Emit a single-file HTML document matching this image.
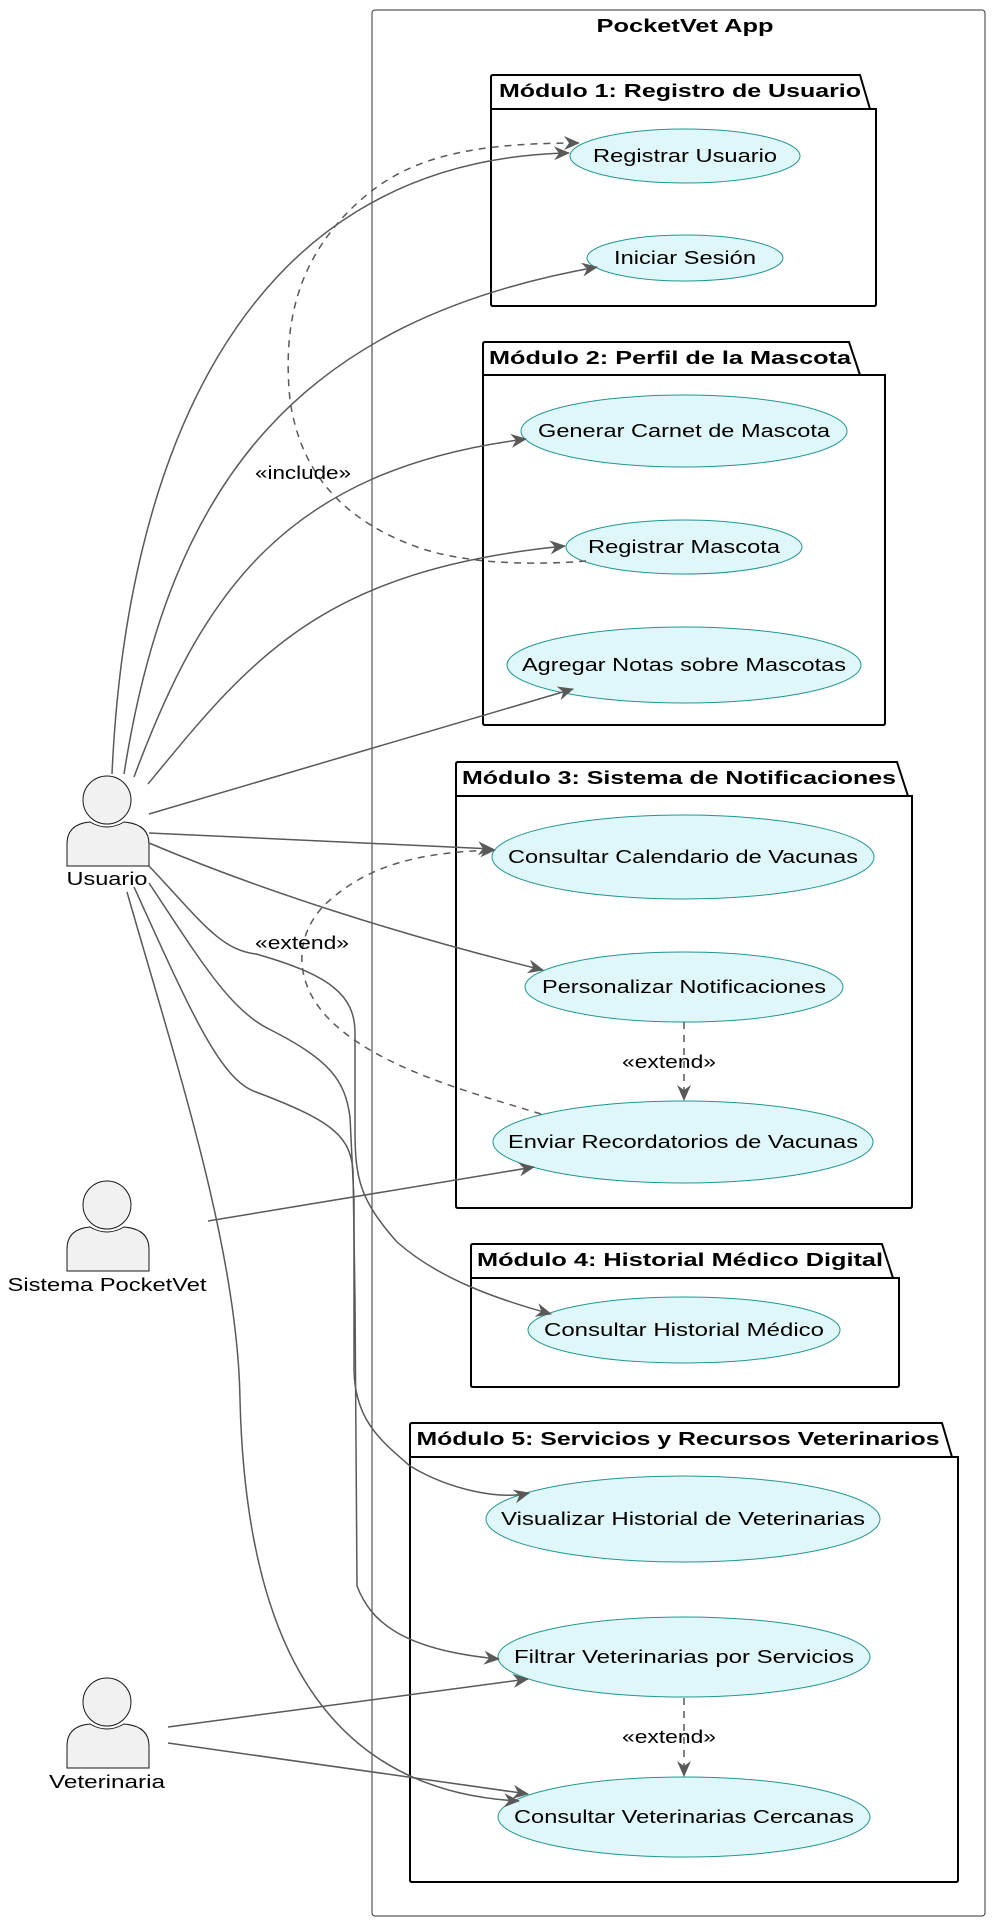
<!DOCTYPE html>
<html><head><meta charset="utf-8"><style>
html,body{margin:0;padding:0;background:#fff;}
svg{display:block;}
text{font-family:"Liberation Sans",sans-serif;}
.uc{fill:#e0f7f9;stroke:#21968f;stroke-width:1;}
.pk{fill:none;stroke:#000;stroke-width:2;}
.e{fill:none;stroke:#595959;stroke-width:1.5;}
.d{fill:none;stroke:#595959;stroke-width:1.5;stroke-dasharray:7,6;}
.t{font-size:18px;fill:#000;}
.b{font-size:18px;font-weight:bold;fill:#000;}
.act{fill:#f1f1f1;stroke:#181818;stroke-width:1;}
</style></head><body>
<svg width="998" height="1924" viewBox="0 0 998 1924" xmlns="http://www.w3.org/2000/svg">
<defs>
<marker id="a" markerWidth="18" markerHeight="16" refX="15" refY="7" orient="auto" markerUnits="userSpaceOnUse">
<path d="M0,0 L16,7 L0,14 L5,7 z" fill="#595959"/>
</marker>
</defs>

<rect x="372" y="10" width="613" height="1906" rx="3" fill="none" stroke="#333" stroke-width="1"/>
<text x="685" y="32" class="b" text-anchor="middle" textLength="177" lengthAdjust="spacingAndGlyphs">PocketVet App</text>

<path class="pk" d="M491 109 L491 77 Q491 75 493 75 L860 75 L870 109 L876 109 L876 304 Q876 306 874 306 L493 306 Q491 306 491 304 Z M491 109 L870 109"/>
<text x="680" y="97" class="b" text-anchor="middle" textLength="362" lengthAdjust="spacingAndGlyphs">Módulo 1: Registro de Usuario</text>

<path class="pk" d="M483 375 L483 344 Q483 342 485 342 L849 342 L860 375 L885 375 L885 723 Q885 725 883 725 L485 725 Q483 725 483 723 Z M483 375 L860 375"/>
<text x="670" y="364" class="b" text-anchor="middle" textLength="362" lengthAdjust="spacingAndGlyphs">Módulo 2: Perfil de la Mascota</text>

<path class="pk" d="M456 796 L456 764 Q456 762 458 762 L897 762 L908 796 L912 796 L912 1206 Q912 1208 910 1208 L458 1208 Q456 1208 456 1206 Z M456 796 L908 796"/>
<text x="679" y="784" class="b" text-anchor="middle" textLength="434" lengthAdjust="spacingAndGlyphs">Módulo 3: Sistema de Notificaciones</text>

<path class="pk" d="M471 1278 L471 1246 Q471 1244 473 1244 L882 1244 L893 1278 L899 1278 L899 1385 Q899 1387 897 1387 L473 1387 Q471 1387 471 1385 Z M471 1278 L893 1278"/>
<text x="680" y="1266" class="b" text-anchor="middle" textLength="406" lengthAdjust="spacingAndGlyphs">Módulo 4: Historial Médico Digital</text>

<path class="pk" d="M410 1457 L410 1425 Q410 1423 412 1423 L942 1423 L952 1457 L958 1457 L958 1880 Q958 1882 956 1882 L412 1882 Q410 1882 410 1880 Z M410 1457 L952 1457"/>
<text x="678" y="1445" class="b" text-anchor="middle" textLength="523" lengthAdjust="spacingAndGlyphs">Módulo 5: Servicios y Recursos Veterinarios</text>

<ellipse class="uc" cx="685" cy="156" rx="115" ry="27"/>
<text x="685" y="162" class="t" text-anchor="middle" textLength="184" lengthAdjust="spacingAndGlyphs">Registrar Usuario</text>
<ellipse class="uc" cx="685" cy="258" rx="98" ry="23"/>
<text x="685" y="264" class="t" text-anchor="middle" textLength="142" lengthAdjust="spacingAndGlyphs">Iniciar Sesión</text>
<ellipse class="uc" cx="684" cy="431" rx="163" ry="36"/>
<text x="684" y="437" class="t" text-anchor="middle" textLength="292" lengthAdjust="spacingAndGlyphs">Generar Carnet de Mascota</text>
<ellipse class="uc" cx="684" cy="547" rx="118" ry="27"/>
<text x="684" y="553" class="t" text-anchor="middle" textLength="192" lengthAdjust="spacingAndGlyphs">Registrar Mascota</text>
<ellipse class="uc" cx="684" cy="665" rx="177" ry="38"/>
<text x="684" y="671" class="t" text-anchor="middle" textLength="324" lengthAdjust="spacingAndGlyphs">Agregar Notas sobre Mascotas</text>
<ellipse class="uc" cx="683" cy="857" rx="191" ry="42"/>
<text x="683" y="863" class="t" text-anchor="middle" textLength="350" lengthAdjust="spacingAndGlyphs">Consultar Calendario de Vacunas</text>
<ellipse class="uc" cx="684" cy="987" rx="159" ry="35"/>
<text x="684" y="993" class="t" text-anchor="middle" textLength="284" lengthAdjust="spacingAndGlyphs">Personalizar Notificaciones</text>
<ellipse class="uc" cx="683" cy="1142" rx="190" ry="41"/>
<text x="683" y="1148" class="t" text-anchor="middle" textLength="350" lengthAdjust="spacingAndGlyphs">Enviar Recordatorios de Vacunas</text>
<ellipse class="uc" cx="684" cy="1330" rx="156" ry="33"/>
<text x="684" y="1336" class="t" text-anchor="middle" textLength="280" lengthAdjust="spacingAndGlyphs">Consultar Historial Médico</text>
<ellipse class="uc" cx="683" cy="1519" rx="197" ry="43"/>
<text x="683" y="1525" class="t" text-anchor="middle" textLength="364" lengthAdjust="spacingAndGlyphs">Visualizar Historial de Veterinarias</text>
<ellipse class="uc" cx="684" cy="1657" rx="186" ry="40"/>
<text x="684" y="1663" class="t" text-anchor="middle" textLength="340" lengthAdjust="spacingAndGlyphs">Filtrar Veterinarias por Servicios</text>
<ellipse class="uc" cx="684" cy="1817" rx="186" ry="40"/>
<text x="684" y="1823" class="t" text-anchor="middle" textLength="340" lengthAdjust="spacingAndGlyphs">Consultar Veterinarias Cercanas</text>

<g>
<ellipse class="act" cx="107" cy="800" rx="24" ry="24"/>
<path class="act" d="M67 866 L67 844 Q67 824 90 822 Q107 832 124 822 Q149 824 149 844 L149 866 Z"/>
<text x="107" y="885" class="t" text-anchor="middle" textLength="81" lengthAdjust="spacingAndGlyphs">Usuario</text>
</g>
<g>
<ellipse class="act" cx="107" cy="1205" rx="24" ry="24"/>
<path class="act" d="M67 1271 L67 1249 Q67 1229 90 1227 Q107 1237 124 1227 Q149 1229 149 1249 L149 1271 Z"/>
<text x="107" y="1291" class="t" text-anchor="middle" textLength="199" lengthAdjust="spacingAndGlyphs">Sistema PocketVet</text>
</g>
<g>
<ellipse class="act" cx="107" cy="1702" rx="24" ry="24"/>
<path class="act" d="M67 1768 L67 1746 Q67 1726 90 1724 Q107 1734 124 1724 Q149 1726 149 1746 L149 1768 Z"/>
<text x="107" y="1788" class="t" text-anchor="middle" textLength="116" lengthAdjust="spacingAndGlyphs">Veterinaria</text>
</g>

<path class="e" marker-end="url(#a)" d="M112 774 C125 480 230 160 569 153"/>
<path class="e" marker-end="url(#a)" d="M124 774 C170 480 300 320 597 267"/>
<path class="e" marker-end="url(#a)" d="M134 777 C200 600 280 470 526 439"/>
<path class="e" marker-end="url(#a)" d="M148 784 C250 660 320 570 565 546"/>
<path class="e" marker-end="url(#a)" d="M149 814 L573 689"/>
<path class="e" marker-end="url(#a)" d="M149 833 L493 849"/>
<path class="e" marker-end="url(#a)" d="M149 843 C260 890 400 935 543 970"/>
<path class="e" marker-end="url(#a)" d="M149 866 C200 920 220 950 256 954 C330 975 355 995 355 1033 L355 1130 C355 1179 360 1200 397 1242 C440 1280 500 1300 551 1314"/>
<path class="e" marker-end="url(#a)" d="M149 883 C200 960 230 1010 269 1029 C330 1060 345 1080 350 1117 L354 1200 L354 1370 C355 1420 380 1440 410 1466 C450 1490 500 1500 529 1493"/>
<path class="e" marker-end="url(#a)" d="M134 887 C190 1010 220 1080 256 1092 C330 1120 350 1135 353 1170 L355 1300 L357 1586 C370 1620 400 1650 499 1659"/>
<path class="e" marker-end="url(#a)" d="M127 892 C175 1060 238 1250 240 1400 C245 1600 300 1790 519 1801"/>

<path class="e" marker-end="url(#a)" d="M208 1221 L534 1167"/>
<path class="e" marker-end="url(#a)" d="M168 1727 L528 1679"/>
<path class="e" marker-end="url(#a)" d="M168 1743 L528 1794"/>

<path class="d" marker-end="url(#a)" d="M586 561 C540 565 470 565 420 548 C340 520 300 470 290 400 C282 320 300 260 350 210 C400 160 460 143 579 143"/>
<path class="d" marker-end="url(#a)" d="M541 1114 C480 1095 380 1070 330 1020 C290 980 295 930 330 900 C370 865 420 852 495 850"/>
<path class="d" marker-end="url(#a)" d="M684 1022 L684 1100"/>
<path class="d" marker-end="url(#a)" d="M684 1698 L684 1776"/>

<text x="303" y="479" class="t" text-anchor="middle" textLength="96" lengthAdjust="spacingAndGlyphs">«include»</text>
<text x="302" y="949" class="t" text-anchor="middle" textLength="94" lengthAdjust="spacingAndGlyphs">«extend»</text>
<text x="669" y="1068" class="t" text-anchor="middle" textLength="94" lengthAdjust="spacingAndGlyphs">«extend»</text>
<text x="669" y="1743" class="t" text-anchor="middle" textLength="94" lengthAdjust="spacingAndGlyphs">«extend»</text>
</svg>
</body></html>
